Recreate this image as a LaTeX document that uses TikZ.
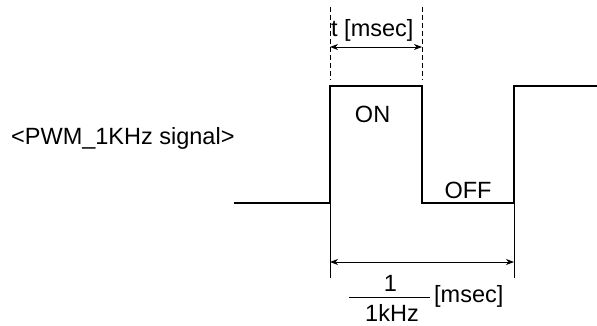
\documentclass[tikz,border=0pt]{standalone}
\usepackage{fontspec}
\setmainfont{Liberation Sans}
\usetikzlibrary{arrows.meta}
\begin{document}
\begin{tikzpicture}[x=1pt,y=-1pt,
  lbl/.style={inner sep=0pt,font=\fontsize{23.5}{27}\selectfont},
  wave/.style={line width=1.8pt,line join=miter},
  guide/.style={line width=0.9pt},
  dashguide/.style={line width=0.9pt,dash pattern=on 5pt off 3pt},
  dim/.style={line width=0.9pt,{Stealth[length=8pt,width=6pt,inset=2.5pt]}-{Stealth[length=8pt,width=6pt,inset=2.5pt]}}]
\useasboundingbox (0,0) rectangle (597,326);
% waveform corners
\coordinate (w0) at (234,203);
\coordinate (r1b) at (330,203);
\coordinate (r1t) at (330,86);
\coordinate (f1t) at (422,86);
\coordinate (f1b) at (422,203);
\coordinate (r2b) at (514,203);
\coordinate (r2t) at (514,86);
\coordinate (wend) at (597,86);
\draw[wave] (w0) -- (r1b) -- (r1t) -- (f1t) -- (f1b) -- (r2b) -- (r2t) -- (wend);
% dashed guides
\coordinate (d1a) at (330,7);
\coordinate (d1b) at (330,80);
\coordinate (d2a) at (422,7);
\coordinate (d2b) at (422,80);
\draw[dashguide] (d1a) -- (d1b);
\draw[dashguide] (d2a) -- (d2b);
% solid guides
\coordinate (g1) at (330,278);
\coordinate (g2) at (514,278);
\draw[guide] (r1b) -- (g1);
\draw[guide] (r2b) -- (g2);
% dimension arrows
\coordinate (ta) at (330,47);
\coordinate (tb) at (422,47);
\draw[dim] (ta) -- (tb);
\coordinate (pa) at (330,262);
\coordinate (pb) at (514,262);
\draw[dim] (pa) -- (pb);
% texts
\node[lbl,anchor=base west] (title) at (11,145) {<PWM\_1KHz signal>};
\node[lbl,anchor=base west] (tlab) at (331,37) {t [msec]};
\node[lbl,anchor=base] (on) at (372.6,122.7) {ON};
\node[lbl,anchor=base] (off) at (468,198.3) {OFF};
\node[lbl,anchor=base] (num) at (390.5,291) {1};
\coordinate (bara) at (349,297);
\coordinate (barb) at (430,297);
\draw[guide] (bara) -- (barb);
\node[lbl,anchor=base] (den) at (392,321) {1kHz};
\node[lbl,anchor=base west] (unit) at (434,302) {[msec]};
\end{tikzpicture}
\end{document}
